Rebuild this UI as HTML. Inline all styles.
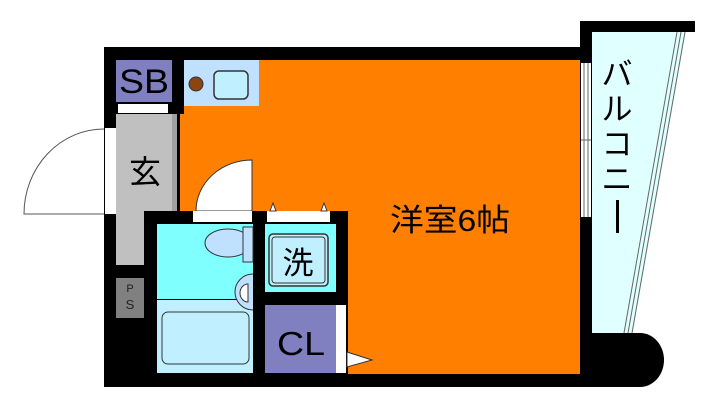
<!DOCTYPE html>
<html><head><meta charset="utf-8"><style>
body{margin:0;background:#fff;width:720px;height:408px;overflow:hidden;font-family:"Liberation Sans","Noto Sans CJK JP",sans-serif}
</style></head><body>
<svg width="720" height="408" viewBox="0 0 720 408" xmlns="http://www.w3.org/2000/svg" font-family="Liberation Sans, Noto Sans CJK JP, sans-serif">
<rect x="104" y="47" width="488" height="340" fill="#000"/>
<rect x="580" y="21" width="115" height="11" fill="#000"/>
<rect x="580" y="21" width="12" height="40" fill="#000"/>
<polygon points="592,32 686,32 633,333 592,333" fill="#e0ffff"/>
<line x1="677" y1="32" x2="624" y2="333" stroke="#666" stroke-width="1"/>
<line x1="681" y1="32" x2="628" y2="333" stroke="#666" stroke-width="1"/>
<line x1="685" y1="32" x2="632" y2="333" stroke="#666" stroke-width="1"/>
<path d="M592 333 H640 A24 27 0 0 1 640 387 H592 Z" fill="#000"/>
<rect x="581" y="63" width="10" height="154" fill="#fff"/>
<line x1="584" y1="63" x2="584" y2="217" stroke="#666"/>
<line x1="588" y1="63" x2="588" y2="217" stroke="#666"/>
<line x1="581" y1="140" x2="591" y2="140" stroke="#666"/>
<rect x="184" y="60" width="396" height="314" fill="#ff8000"/>
<rect x="180" y="114" width="4" height="97" fill="#ff8000"/>
<rect x="184" y="60" width="75" height="46" fill="#c0e0ff"/>
<circle cx="196" cy="84" r="7" fill="#8b4513" stroke="#333"/>
<rect x="214" y="71" width="34" height="28" rx="5" fill="#c0f0ff" stroke="#333" stroke-width="1.5"/>
<rect x="116" y="60" width="56" height="42" fill="#8080c0"/>
<text x="144" y="93" font-size="34" text-anchor="middle" fill="#000" textLength="50" lengthAdjust="spacingAndGlyphs">SB</text>
<rect x="118" y="104" width="50" height="9" fill="#fff"/>
<rect x="116" y="114" width="56" height="151" fill="#c0c0c0"/>
<rect x="172" y="114" width="5" height="97" fill="#a0a0a0"/>
<text x="145" y="183" font-size="32" text-anchor="middle" fill="#000">玄</text>
<rect x="105" y="128" width="11" height="86" fill="#fff"/>
<path d="M104 129 A80 85 0 0 0 24 214 L104 214" fill="#fff" stroke="#555"/>
<rect x="116" y="278" width="28" height="40" fill="#808080"/>
<text x="130" y="292" font-size="11" text-anchor="middle" fill="#222">P</text>
<text x="130" y="309" font-size="13" text-anchor="middle" fill="#222">S</text>
<rect x="144" y="211" width="204" height="163" fill="#000"/>
<rect x="157" y="224" width="96" height="75" fill="#80ffff"/>
<rect x="157" y="300" width="96" height="73" fill="#c0f0ff"/>
<rect x="162" y="312" width="87" height="52" rx="6" fill="#c0f0ff" stroke="#333"/>
<ellipse cx="228" cy="243" rx="23" ry="14" fill="#c0e0ff" stroke="#333"/>
<rect x="243" y="227" width="10" height="35" fill="#c0e0ff" stroke="#333"/>
<path d="M253 274 A18 18 0 0 0 253 310" fill="#c0e0ff" stroke="#333"/>
<path d="M248 284 A8 9 0 0 0 248 302 Z" fill="#fff" stroke="#333"/>
<path d="M252 160 A56 51 0 0 0 196 211 L252 211 Z" fill="#fff" stroke="#333"/>
<rect x="193" y="211" width="59" height="11" fill="#fff"/>
<rect x="265" y="224" width="71" height="68" fill="#80ffff"/>
<rect x="267" y="211" width="63" height="11" fill="#fff"/>
<polygon points="270,211 273,203 276,211" fill="#fff" stroke="#333"/>
<polygon points="321,211 324,203 327,211" fill="#fff" stroke="#333"/>
<rect x="269" y="234" width="59" height="52" rx="4" fill="#c0f0ff" stroke="#333" stroke-width="1.5"/>
<rect x="272" y="237" width="53" height="46" rx="3" fill="none" stroke="#333"/>
<text x="298" y="274" font-size="31" text-anchor="middle" fill="#000">洗</text>
<rect x="265" y="305" width="71" height="68" fill="#8080c0"/>
<text x="301" y="355" font-size="33" text-anchor="middle" fill="#000" textLength="48" lengthAdjust="spacingAndGlyphs">CL</text>
<rect x="336" y="305" width="10" height="68" fill="#fff"/>
<polygon points="347,352 372,360 347,367" fill="#fff" stroke="#333"/>
<text x="450" y="231" font-size="31" text-anchor="middle" fill="#000" textLength="120" lengthAdjust="spacingAndGlyphs">洋室6帖</text>
<g font-size="31" fill="#000" text-anchor="middle">
<text x="617" y="85">バ</text>
<text x="617" y="120">ル</text>
<text x="617" y="155">コ</text>
<text x="617" y="190">ニ</text>
</g>
<rect x="616" y="200" width="3" height="33" fill="#000"/>
</svg>
</body></html>
